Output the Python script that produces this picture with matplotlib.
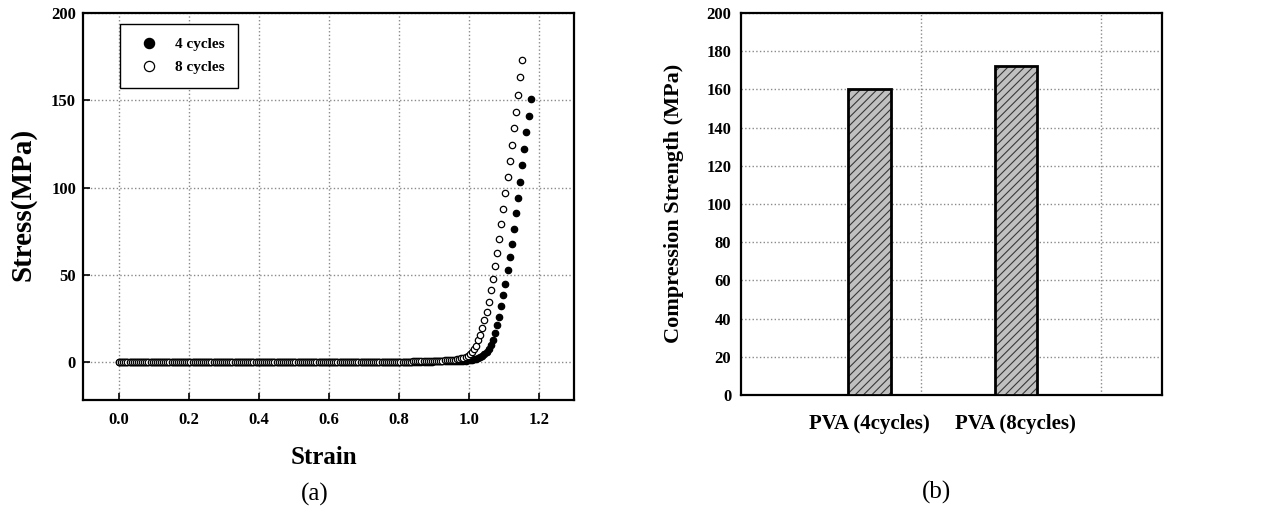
import numpy as np
import matplotlib
matplotlib.use("Agg")
import matplotlib.pyplot as plt

plt.rcParams['font.family'] = ['Liberation Serif', 'DejaVu Serif']
plt.rcParams['font.weight'] = 'bold'
plt.rcParams['hatch.linewidth'] = 0.8

# ---------------- data ----------------
# strain samples (in 1/1000) (constant sampling step)
strain_milli = [
    0, 6, 12, 18, 24, 30, 36, 42, 48, 54,
    60, 66, 72, 78, 84, 90, 96, 102, 108, 114,
    120, 126, 132, 138, 144, 150, 156, 162, 168, 174,
    180, 186, 192, 198, 204, 210, 216, 222, 228, 234,
    240, 246, 252, 258, 264, 270, 276, 282, 288, 294,
    300, 306, 312, 318, 324, 330, 336, 342, 348, 354,
    360, 366, 372, 378, 384, 390, 396, 402, 408, 414,
    420, 426, 432, 438, 444, 450, 456, 462, 468, 474,
    480, 486, 492, 498, 504, 510, 516, 522, 528, 534,
    540, 546, 552, 558, 564, 570, 576, 582, 588, 594,
    600, 606, 612, 618, 624, 630, 636, 642, 648, 654,
    660, 666, 672, 678, 684, 690, 696, 702, 708, 714,
    720, 726, 732, 738, 744, 750, 756, 762, 768, 774,
    780, 786, 792, 798, 804, 810, 816, 822, 828, 834,
    840, 846, 852, 858, 864, 870, 876, 882, 888, 894,
    900, 906, 912, 918, 924, 930, 936, 942, 948, 954,
    960, 966, 972, 978, 984, 990, 996, 1002, 1008, 1014,
    1020, 1026, 1032, 1038, 1044, 1050, 1056, 1062, 1068, 1074,
    1080, 1086, 1092, 1098, 1104, 1110, 1116, 1122, 1128, 1134,
    1140, 1146, 1152, 1158, 1164, 1170, 1176,
]

stress_4cycles = [
    0.0, 0.0, 0.0, 0.0, 0.0, 0.0, 0.0, 0.0, 0.0, 0.0,
    0.0, 0.0, 0.0, 0.0, 0.0, 0.0, 0.0, 0.0, 0.0, 0.0,
    0.0, 0.0, 0.0, 0.0, 0.0, 0.0, 0.0, 0.0, 0.0, 0.0,
    0.0, 0.0, 0.0, 0.0, 0.0, 0.0, 0.0, 0.0, 0.0, 0.0,
    0.0, 0.0, 0.0, 0.0, 0.0, 0.0, 0.0, 0.0, 0.0, 0.0,
    0.0, 0.0, 0.0, 0.0, 0.0, 0.0, 0.0, 0.0, 0.0, 0.0,
    0.1, 0.1, 0.1, 0.1, 0.1, 0.1, 0.1, 0.1, 0.1, 0.1,
    0.1, 0.1, 0.1, 0.1, 0.1, 0.1, 0.1, 0.1, 0.1, 0.1,
    0.1, 0.1, 0.1, 0.1, 0.1, 0.1, 0.1, 0.1, 0.1, 0.1,
    0.1, 0.1, 0.1, 0.1, 0.1, 0.1, 0.1, 0.1, 0.1, 0.1,
    0.1, 0.1, 0.1, 0.1, 0.1, 0.1, 0.1, 0.1, 0.1, 0.1,
    0.2, 0.2, 0.2, 0.2, 0.2, 0.2, 0.2, 0.2, 0.2, 0.2,
    0.2, 0.2, 0.2, 0.2, 0.2, 0.2, 0.2, 0.2, 0.2, 0.2,
    0.2, 0.2, 0.2, 0.2, 0.2, 0.2, 0.2, 0.2, 0.2, 0.2,
    0.3, 0.3, 0.3, 0.3, 0.3, 0.3, 0.3, 0.3, 0.3, 0.3,
    0.4, 0.4, 0.4, 0.5, 0.5, 0.5, 0.5, 0.6, 0.6, 0.6,
    0.6, 0.7, 0.7, 0.8, 0.8, 0.9, 1.0, 1.2, 1.4, 1.7,
    2.0, 2.4, 3.0, 3.7, 4.7, 6.0, 7.7, 9.9, 12.8, 16.6,
    21.0, 26.1, 31.9, 38.2, 44.9, 52.5, 60.0, 67.8, 76.4, 85.4,
    94.2, 103.4, 113.0, 122.1, 131.6, 141.2, 151.0,
]

stress_8cycles = [
    0.0, 0.0, 0.0, 0.0, 0.0, 0.0, 0.0, 0.0, 0.0, 0.0,
    0.0, 0.0, 0.0, 0.0, 0.0, 0.0, 0.0, 0.0, 0.0, 0.0,
    0.0, 0.0, 0.0, 0.0, 0.0, 0.0, 0.0, 0.0, 0.0, 0.0,
    0.0, 0.0, 0.0, 0.0, 0.0, 0.0, 0.0, 0.0, 0.0, 0.0,
    0.0, 0.0, 0.0, 0.0, 0.0, 0.0, 0.0, 0.0, 0.0, 0.0,
    0.0, 0.0, 0.0, 0.0, 0.0, 0.0, 0.0, 0.0, 0.0, 0.0,
    0.1, 0.1, 0.1, 0.1, 0.1, 0.1, 0.1, 0.1, 0.1, 0.1,
    0.1, 0.1, 0.1, 0.1, 0.1, 0.1, 0.1, 0.1, 0.1, 0.1,
    0.1, 0.1, 0.1, 0.1, 0.1, 0.1, 0.1, 0.1, 0.1, 0.1,
    0.1, 0.1, 0.1, 0.1, 0.1, 0.1, 0.1, 0.1, 0.1, 0.1,
    0.2, 0.2, 0.2, 0.2, 0.2, 0.2, 0.2, 0.2, 0.2, 0.2,
    0.2, 0.2, 0.2, 0.2, 0.2, 0.2, 0.2, 0.2, 0.2, 0.2,
    0.2, 0.2, 0.2, 0.2, 0.2, 0.3, 0.3, 0.3, 0.3, 0.3,
    0.3, 0.3, 0.3, 0.3, 0.3, 0.3, 0.3, 0.3, 0.3, 0.3,
    0.4, 0.4, 0.5, 0.5, 0.5, 0.6, 0.6, 0.6, 0.7, 0.7,
    0.7, 0.8, 0.8, 0.9, 0.9, 1.0, 1.0, 1.1, 1.2, 1.3,
    1.4, 1.6, 1.8, 2.1, 2.5, 3.0, 3.7, 4.6, 5.8, 7.4,
    9.5, 12.4, 15.7, 19.3, 23.9, 28.8, 34.6, 41.1, 47.8, 55.0,
    62.7, 70.7, 79.1, 87.7, 96.7, 106.1, 115.3, 124.6, 134.2, 143.5,
    153.3, 163.2, 172.9,
]

series_labels = ["4 cycles", "8 cycles"]
left_xticks = [0.0, 0.2, 0.4, 0.6, 0.8, 1.0, 1.2]
left_yticks = [0, 50, 100, 150, 200]

bar_labels = ["PVA (4cycles)", "PVA (8cycles)"]
bar_values = [160, 172]
right_yticks = [0, 20, 40, 60, 80, 100, 120, 140, 160, 180, 200]

# ---------------- figure ----------------
W, H = 1279, 508
fig = plt.figure(figsize=(W / 100, H / 100), dpi=100)

grid_kw = dict(color='#8a8a8a', linestyle=':', linewidth=1.0)

# ---- (a) stress-strain ----
ax1 = fig.add_axes([83 / W, (H - 400) / H, 491 / W, 387 / H])
strain = np.array(strain_milli) / 1000.0
ax1.plot(strain[:len(stress_4cycles)], stress_4cycles, linestyle='none', marker='o',
         ms=4.6, mfc='black', mec='black', mew=0.9, label=series_labels[0], zorder=3)
ax1.plot(strain[:len(stress_8cycles)], stress_8cycles, linestyle='none', marker='o',
         ms=4.6, mfc='white', mec='black', mew=0.9, label=series_labels[1], zorder=4)
ax1.set_xlim(-0.103, 1.3)
ax1.set_ylim(-21.7, 200)
ax1.set_xticks(left_xticks)
ax1.set_xticklabels([f"{v:.1f}" for v in left_xticks])
ax1.set_yticks(left_yticks)
ax1.grid(True, **grid_kw)
ax1.set_axisbelow(True)
ax1.tick_params(axis='x', direction='in', length=5, width=1.2, labelsize=12, pad=9)
ax1.tick_params(axis='y', direction='in', length=5, width=1.2, labelsize=12, pad=5)
for sp in ax1.spines.values():
    sp.set_linewidth(1.6)
ax1.set_xlabel('Strain', fontsize=18, fontweight='bold')
ax1.xaxis.set_label_coords(0.49, -0.118)
ax1.set_ylabel('Stress(MPa)', fontsize=21, fontweight='bold')
ax1.yaxis.set_label_coords(-0.094, 0.506)

leg = ax1.legend(loc='upper left', bbox_to_anchor=(0.0754, 0.9716), borderaxespad=0,
                 frameon=True, fancybox=False, edgecolor='black', framealpha=1,
                 fontsize=11, markerscale=1.6, numpoints=1, borderpad=0.9,
                 labelspacing=0.6, handletextpad=0.7, handlelength=2.0)
leg.get_frame().set_linewidth(1.0)

# ---- (b) bar chart ----
ax2 = fig.add_axes([741 / W, (H - 395) / H, 421 / W, 382 / H])
pos = np.arange(1, len(bar_values) + 1)
ax2.bar(pos, bar_values, width=0.29, color='#c0c0c0', edgecolor='#383838',
        linewidth=0, hatch='////', zorder=3)
ax2.bar(pos, bar_values, width=0.29, fill=False, edgecolor='black',
        linewidth=2.0, zorder=4)
ax2.set_xlim(0.12, 3.0)
ax2.set_ylim(0, 200)
ax2.set_yticks(right_yticks)
ax2.set_xticks(pos)
ax2.set_xticklabels(bar_labels)
ax2.set_xticks([1.353, 2.581], minor=True)
ax2.grid(True, axis='y', **grid_kw)
ax2.grid(True, axis='x', which='minor', **grid_kw)
ax2.set_axisbelow(True)
ax2.tick_params(axis='x', which='both', length=0, labelsize=15, pad=14)
ax2.tick_params(axis='y', length=0, labelsize=12, pad=7)
for sp in ax2.spines.values():
    sp.set_linewidth(1.6)
ax2.set_ylabel('Compression Strength (MPa)', fontsize=16, fontweight='bold')
ax2.yaxis.set_label_coords(-0.136, 0.501)

fig.text(315 / W, 1 - 494 / H, '(a)', ha='center', va='center', fontsize=18,
         fontweight='normal')
fig.text(936 / W, 1 - 492 / H, '(b)', ha='center', va='center', fontsize=18,
         fontweight='normal')

fig.savefig('out.png', dpi=100)
